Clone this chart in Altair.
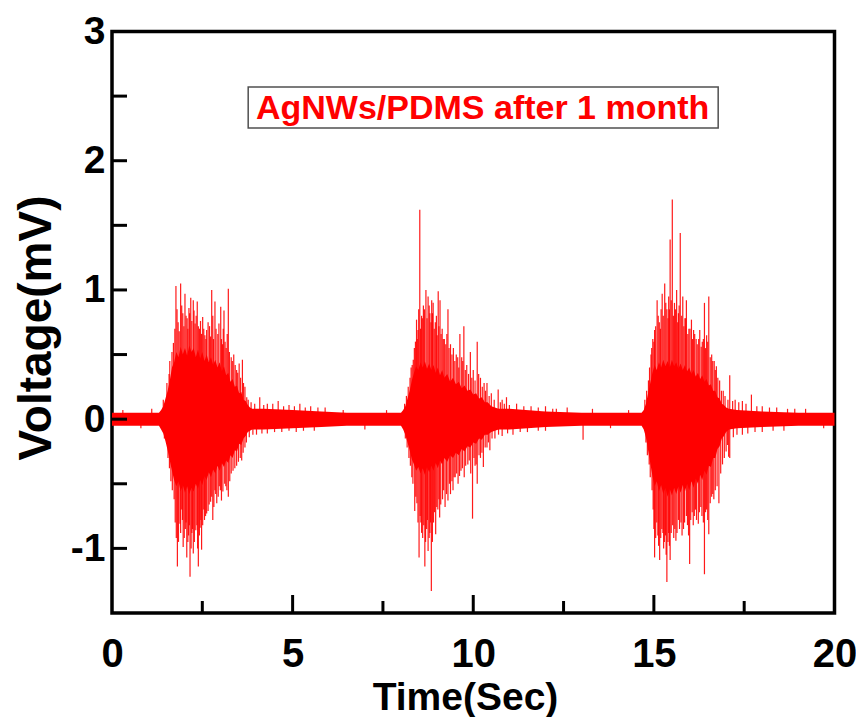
import altair as alt
import pandas as pd

# ---- data ----
# dense core envelope of the signal (time s, upper mV, lower mV), by segment
quiet0_t = [0.0, 0.5, 1.0]
quiet0_hi = [0.05, 0.05, 0.05]
quiet0_lo = [-0.05, -0.05, -0.05]

burst1_t = [1.30, 1.36, 1.42, 1.48, 1.54, 1.60, 1.66, 1.72, 1.78, 1.84, 1.90, 1.96, 2.02, 2.08,
            2.14, 2.20, 2.26, 2.32, 2.38, 2.44, 2.50, 2.56, 2.62, 2.68, 2.74, 2.80, 2.86, 2.92,
            2.98, 3.04, 3.10, 3.16, 3.22, 3.28, 3.34, 3.40, 3.46, 3.52, 3.58, 3.64, 3.70, 3.76,
            3.82, 3.88]
burst1_hi = [0.05, 0.07, 0.10, 0.16, 0.22, 0.30, 0.40, 0.44, 0.52, 0.48, 0.56, 0.50, 0.55, 0.49,
             0.57, 0.52, 0.55, 0.48, 0.54, 0.47, 0.52, 0.45, 0.50, 0.44, 0.48, 0.42, 0.46, 0.40,
             0.44, 0.37, 0.41, 0.34, 0.36, 0.29, 0.31, 0.25, 0.26, 0.20, 0.21, 0.15, 0.14, 0.11,
             0.09, 0.08]
burst1_lo = [-0.05, -0.08, -0.11, -0.17, -0.24, -0.32, -0.40, -0.47, -0.52, -0.48, -0.56, -0.51, -0.57, -0.52,
             -0.58, -0.53, -0.56, -0.50, -0.54, -0.47, -0.51, -0.44, -0.47, -0.41, -0.45, -0.39, -0.42, -0.36,
             -0.40, -0.34, -0.37, -0.32, -0.34, -0.28, -0.30, -0.24, -0.25, -0.19, -0.20, -0.15, -0.13, -0.10,
             -0.09, -0.08]

quiet1_t = [4.2, 5.0, 5.8, 6.5, 7.2, 7.9]
quiet1_hi = [0.08, 0.07, 0.06, 0.05, 0.05, 0.05]
quiet1_lo = [-0.08, -0.07, -0.06, -0.05, -0.05, -0.05]

burst2_t = [8.00, 8.06, 8.12, 8.18, 8.24, 8.30, 8.36, 8.42, 8.48, 8.54, 8.60, 8.66, 8.72, 8.78,
            8.84, 8.90, 8.96, 9.02, 9.08, 9.14, 9.20, 9.28, 9.36, 9.44, 9.52, 9.60, 9.68, 9.76,
            9.84, 9.92, 10.00, 10.08, 10.16, 10.24, 10.32, 10.40, 10.50, 10.60, 10.70]
burst2_hi = [0.05, 0.07, 0.10, 0.16, 0.22, 0.30, 0.36, 0.41, 0.38, 0.44, 0.40, 0.45, 0.39, 0.43,
             0.38, 0.42, 0.36, 0.40, 0.34, 0.38, 0.32, 0.35, 0.29, 0.32, 0.27, 0.29, 0.24, 0.26,
             0.22, 0.23, 0.19, 0.20, 0.16, 0.17, 0.13, 0.13, 0.10, 0.09, 0.08]
burst2_lo = [-0.05, -0.08, -0.12, -0.18, -0.24, -0.31, -0.35, -0.40, -0.37, -0.42, -0.38, -0.43, -0.37, -0.41,
             -0.36, -0.40, -0.34, -0.38, -0.32, -0.35, -0.30, -0.33, -0.28, -0.30, -0.26, -0.28, -0.23, -0.25,
             -0.21, -0.22, -0.18, -0.19, -0.15, -0.16, -0.12, -0.12, -0.10, -0.09, -0.08]

quiet2_t = [11.0, 12.0, 13.0, 14.0]
quiet2_hi = [0.08, 0.06, 0.05, 0.05]
quiet2_lo = [-0.08, -0.06, -0.05, -0.05]

burst3_t = [14.66, 14.72, 14.78, 14.84, 14.90, 14.96, 15.02, 15.08, 15.14, 15.20, 15.26, 15.32, 15.38, 15.44,
            15.50, 15.56, 15.62, 15.68, 15.74, 15.80, 15.86, 15.92, 15.98, 16.04, 16.10, 16.16, 16.22, 16.28,
            16.34, 16.40, 16.46, 16.52, 16.58, 16.64, 16.70, 16.76, 16.82, 16.88, 16.94, 17.00, 17.08]
burst3_hi = [0.05, 0.07, 0.12, 0.20, 0.28, 0.36, 0.42, 0.38, 0.44, 0.40, 0.46, 0.41, 0.45, 0.40,
             0.46, 0.41, 0.44, 0.39, 0.43, 0.38, 0.42, 0.37, 0.40, 0.35, 0.38, 0.33, 0.36, 0.31,
             0.34, 0.29, 0.31, 0.26, 0.27, 0.22, 0.22, 0.17, 0.16, 0.12, 0.11, 0.09, 0.08]
burst3_lo = [-0.05, -0.08, -0.14, -0.24, -0.34, -0.44, -0.52, -0.48, -0.56, -0.51, -0.58, -0.53, -0.60, -0.54,
             -0.59, -0.53, -0.58, -0.52, -0.57, -0.51, -0.56, -0.50, -0.55, -0.48, -0.53, -0.46, -0.50, -0.43,
             -0.47, -0.40, -0.43, -0.36, -0.37, -0.30, -0.30, -0.23, -0.21, -0.15, -0.13, -0.10, -0.08]

quiet3_t = [17.3, 18.0, 19.0, 20.0]
quiet3_hi = [0.07, 0.06, 0.05, 0.05]
quiet3_lo = [-0.07, -0.06, -0.05, -0.05]

# tallest individual spikes (time s, peak mV)
spike_t = [
    1.42, 1.52, 1.60, 1.70, 1.77, 1.83, 1.90, 1.96, 2.02, 2.08, 2.13, 2.18, 2.25, 2.30,
    2.36, 2.42, 2.51, 2.57, 2.62, 2.70, 2.76, 2.81, 2.85, 2.93, 3.01, 3.06, 3.10, 3.16,
    3.22, 3.30, 3.37, 3.45, 3.52, 3.61, 3.68, 3.73, 3.85, 4.09, 4.30, 4.60, 4.90, 5.20,
    5.50, 5.90,
    1.45, 1.55, 1.63, 1.72, 1.81, 1.88, 1.93, 1.97, 2.03, 2.07, 2.12, 2.16, 2.21, 2.25,
    2.32, 2.39, 2.44, 2.48, 2.56, 2.62, 2.66, 2.73, 2.79, 2.85, 2.90, 2.97, 3.03, 3.12,
    3.22, 3.30, 3.40, 3.50, 3.59, 3.68, 3.80, 4.00, 4.30, 4.70, 5.10, 5.60,
    8.10, 8.20, 8.28, 8.34, 8.40, 8.43, 8.47, 8.52, 8.57, 8.62, 8.69, 8.75, 8.80, 8.85,
    8.89, 8.95, 9.03, 9.08, 9.14, 9.20, 9.30, 9.37, 9.45, 9.53, 9.63, 9.68, 9.74, 9.82,
    9.92, 10.00, 10.11, 10.20, 10.30, 10.38, 10.50, 10.69, 10.80, 10.92, 11.20, 11.60,
    12.00, 12.60, 13.30,
    8.12, 8.22, 8.30, 8.38, 8.44, 8.50, 8.55, 8.60, 8.66, 8.71, 8.75, 8.80, 8.84, 8.90,
    8.96, 9.02, 9.07, 9.15, 9.22, 9.30, 9.37, 9.44, 9.50, 9.58, 9.66, 9.75, 9.85, 9.93,
    9.98, 10.05, 10.11, 10.20, 10.28, 10.38, 10.46, 10.60, 10.80, 11.10, 11.50, 12.00,
    13.04,
    14.75, 14.85, 14.92, 14.97, 15.02, 15.09, 15.15, 15.23, 15.30, 15.36, 15.41, 15.45,
    15.51, 15.57, 15.63, 15.68, 15.73, 15.80, 15.86, 15.90, 15.97, 16.04, 16.10, 16.17,
    16.27, 16.34, 16.40, 16.46, 16.52, 16.60, 16.67, 16.73, 16.82, 16.92, 17.10, 17.25,
    17.45, 17.70, 18.00, 18.40, 18.90,
    14.78, 14.87, 14.95, 15.02, 15.08, 15.16, 15.22, 15.29, 15.36, 15.41, 15.45, 15.52,
    15.61, 15.68, 15.75, 15.82, 15.90, 15.99, 16.06, 16.15, 16.23, 16.30, 16.40, 16.46,
    16.52, 16.60, 16.70, 16.80, 16.90, 17.00, 17.07, 17.10, 17.30, 17.60, 18.00, 18.60,
    0.30, 0.80, 1.10, 6.40, 7.00, 7.60, 12.30, 13.80, 14.30, 19.20, 19.70,
]
spike_v = [
    0.15, 0.28, 0.45, 0.59, 1.03, 0.75, 1.05, 0.82, 0.97, 0.78, 0.86, 0.94, 0.92, 0.74,
    0.91, 0.70, 0.79, 0.65, 0.69, 0.72, 1.00, 0.62, 0.91, 0.66, 0.87, 0.58, 0.84, 0.55,
    1.01, 0.48, 0.50, 0.38, 0.43, 0.46, 0.25, 0.17, 0.13, 0.17, 0.12, 0.14, 0.11, 0.12,
    0.10, 0.09,
    -0.15, -0.30, -0.48, -0.62, -1.14, -0.81, -0.70, -0.99, -0.85, -1.07, -0.90, -1.22, -0.88, -1.04,
    -0.86, -1.14, -0.84, -1.01, -0.78, -0.73, -0.71, -0.64, -0.78, -0.55, -0.65, -0.52, -0.63, -0.50,
    -0.60, -0.42, -0.38, -0.33, -0.32, -0.22, -0.14, -0.12, -0.11, -0.10, -0.10, -0.09,
    0.12, 0.25, 0.40, 0.46, 0.60, 0.77, 0.69, 1.62, 0.80, 0.88, 1.00, 0.95, 0.82, 0.92,
    0.90, 0.75, 0.99, 0.92, 0.70, 0.62, 0.85, 0.58, 0.55, 0.50, 0.66, 0.48, 0.72, 0.42,
    0.52, 0.38, 0.60, 0.32, 0.28, 0.28, 0.20, 0.23, 0.15, 0.17, 0.12, 0.10,
    0.10, 0.09, 0.08,
    -0.15, -0.30, -0.45, -0.71, -0.65, -1.07, -0.80, -0.92, -1.14, -0.85, -1.02, -0.88, -1.33, -0.80,
    -0.89, -0.70, -0.76, -0.62, -0.68, -0.63, -0.58, -0.55, -0.45, -0.50, -0.40, -0.45, -0.35, -0.42,
    -0.77, -0.36, -0.50, -0.30, -0.37, -0.22, -0.24, -0.15, -0.13, -0.12, -0.10, -0.09,
    -0.16,
    0.15, 0.30, 0.50, 0.62, 0.69, 0.92, 0.75, 0.97, 1.05, 0.85, 0.95, 1.39,
    1.70, 0.90, 1.00, 0.82, 1.44, 0.95, 0.78, 0.92, 0.70, 0.77, 0.69, 0.62,
    0.69, 0.60, 0.90, 0.65, 0.95, 0.50, 0.45, 0.41, 0.30, 0.22, 0.34, 0.15,
    0.14, 0.19, 0.10, 0.09, 0.08,
    -0.18, -0.35, -0.55, -1.07, -0.80, -1.09, -0.85, -0.95, -1.26, -0.88, -1.09, -0.82,
    -0.94, -0.78, -0.80, -0.85, -0.75, -1.12, -0.72, -0.70, -0.81, -0.68, -1.20, -0.70,
    -0.89, -0.60, -0.55, -0.65, -0.35, -0.25, -0.29, -0.30, -0.12, -0.11, -0.10, -0.09,
    0.07, -0.07, 0.08, 0.07, -0.08, 0.07, 0.08, -0.07, 0.07, 0.08, -0.07,
]

# medium spikes filling the dense part of each burst (time s, peak mV)
mid_t = [
    1.58, 1.66, 1.74, 1.80, 1.86, 1.93, 1.99, 2.05, 2.10, 2.15, 2.21, 2.27, 2.33, 2.39,
    2.45, 2.48, 2.54, 2.60, 2.66, 2.73, 2.79, 2.88, 2.96, 3.03, 3.08, 3.13, 3.19, 3.25,
    3.33, 3.41, 3.48, 3.56, 3.64, 3.77, 3.95, 4.20, 4.45, 4.75, 5.05, 5.35, 5.70,
    1.59, 1.67, 1.75, 1.78, 1.84, 1.90, 1.95, 2.00, 2.05, 2.10, 2.14, 2.19, 2.23, 2.28,
    2.35, 2.37, 2.42, 2.46, 2.51, 2.54, 2.59, 2.69, 2.76, 2.82, 2.87, 2.94, 3.00, 3.07,
    3.15, 3.18, 3.26, 3.35, 3.45, 3.55, 3.63, 3.72, 3.90, 4.15, 4.50, 4.90, 5.30,
    8.15, 8.25, 8.31, 8.37, 8.45, 8.49, 8.54, 8.59, 8.65, 8.72, 8.78, 8.83, 8.87, 8.92,
    8.98, 9.00, 9.05, 9.11, 9.17, 9.24, 9.27, 9.33, 9.41, 9.49, 9.57, 9.60, 9.71, 9.78,
    9.87, 9.96, 10.05, 10.15, 10.25, 10.34, 10.44, 10.58, 10.75, 10.86, 11.00, 11.40,
    11.80, 12.20,
    8.17, 8.26, 8.33, 8.41, 8.47, 8.53, 8.57, 8.63, 8.68, 8.73, 8.78, 8.82, 8.87, 8.93,
    8.99, 9.05, 9.10, 9.18, 9.26, 9.34, 9.41, 9.47, 9.54, 9.62, 9.70, 9.79, 9.89, 10.02,
    10.08, 10.16, 10.24, 10.33, 10.42, 10.52, 10.70, 10.95, 11.30, 11.80,
    14.80, 14.88, 14.94, 15.00, 15.05, 15.12, 15.18, 15.20, 15.26, 15.33, 15.39, 15.43,
    15.48, 15.54, 15.60, 15.66, 15.70, 15.77, 15.83, 15.88, 15.94, 16.00, 16.07, 16.13,
    16.20, 16.24, 16.31, 16.37, 16.43, 16.49, 16.56, 16.63, 16.70, 16.77, 16.87, 16.97,
    17.05, 17.18, 17.35, 17.55, 17.85, 18.20, 18.70,
    14.82, 14.90, 14.98, 15.00, 15.05, 15.11, 15.13, 15.19, 15.25, 15.27, 15.32, 15.34,
    15.39, 15.43, 15.48, 15.55, 15.58, 15.64, 15.71, 15.78, 15.85, 15.93, 15.96, 16.02,
    16.09, 16.12, 16.18, 16.26, 16.33, 16.37, 16.43, 16.49, 16.56, 16.63, 16.66, 16.75,
    16.85, 16.95, 17.04, 17.20, 17.45, 17.80, 18.30,
]
mid_v = [
    0.35, 0.52, 0.70, 0.85, 0.68, 0.88, 0.72, 0.80, 0.70, 0.82, 0.76, 0.84, 0.80, 0.72,
    0.76, 0.66, 0.70, 0.62, 0.75, 0.64, 0.80, 0.70, 0.74, 0.62, 0.70, 0.60, 0.66, 0.52,
    0.45, 0.42, 0.36, 0.32, 0.28, 0.15, 0.12, 0.11, 0.12, 0.10, 0.10, 0.09, 0.09,
    -0.38, -0.55, -0.80, -0.92, -0.95, -0.88, -0.78, -0.92, -0.80, -0.95, -0.82, -1.00, -0.85, -0.95,
    -0.82, -1.00, -0.90, -0.78, -0.82, -0.70, -0.75, -0.66, -0.60, -0.68, -0.58, -0.60, -0.55, -0.56,
    -0.52, -0.55, -0.48, -0.40, -0.36, -0.30, -0.26, -0.18, -0.12, -0.11, -0.10, -0.09, -0.09,
    0.18, 0.32, 0.42, 0.55, 0.62, 0.85, 0.70, 0.78, 0.85, 0.78, 0.88, 0.75, 0.82, 0.70,
    0.80, 0.65, 0.72, 0.66, 0.62, 0.58, 0.66, 0.55, 0.50, 0.45, 0.48, 0.40, 0.45, 0.38,
    0.35, 0.32, 0.30, 0.35, 0.25, 0.22, 0.18, 0.15, 0.13, 0.12, 0.11, 0.10,
    0.09, 0.08,
    -0.22, -0.36, -0.50, -0.60, -0.80, -0.75, -0.88, -0.82, -0.95, -0.78, -0.92, -0.80, -0.95, -0.72,
    -0.68, -0.62, -0.66, -0.55, -0.58, -0.50, -0.48, -0.45, -0.42, -0.44, -0.38, -0.36, -0.32, -0.30,
    -0.35, -0.28, -0.26, -0.22, -0.18, -0.15, -0.12, -0.11, -0.10, -0.09,
    0.22, 0.40, 0.55, 0.60, 0.72, 0.80, 0.70, 0.85, 0.80, 0.90, 0.78, 0.85,
    0.92, 0.80, 0.85, 0.75, 0.88, 0.80, 0.72, 0.78, 0.66, 0.70, 0.62, 0.66,
    0.58, 0.62, 0.56, 0.62, 0.55, 0.60, 0.48, 0.45, 0.38, 0.32, 0.22, 0.18,
    0.15, 0.14, 0.13, 0.12, 0.10, 0.09, 0.08,
    -0.28, -0.45, -0.70, -0.85, -0.92, -0.90, -0.98, -0.92, -0.88, -1.00, -0.90, -1.05,
    -0.95, -0.98, -0.88, -0.92, -0.85, -0.88, -0.85, -0.90, -0.80, -0.82, -0.90, -0.78,
    -0.82, -0.75, -0.78, -0.72, -0.75, -0.80, -0.72, -0.78, -0.65, -0.58, -0.62, -0.52,
    -0.42, -0.30, -0.20, -0.14, -0.12, -0.10, -0.09,
]

x_ticks_major = [5, 10, 15]
x_ticks_minor = [2.5, 7.5, 12.5, 17.5]
y_ticks = [-1, -0.5, 0, 0.5, 1, 1.5, 2, 2.5]
x_labels = [0, 5, 10, 15, 20]
y_labels = [-1, 0, 1, 2, 3]

legend_text = "AgNWs/PDMS after 1 month"

# ---- tables ----
env = pd.DataFrame({
    "t": quiet0_t + burst1_t + quiet1_t + burst2_t + quiet2_t + burst3_t + quiet3_t,
    "hi": quiet0_hi + burst1_hi + quiet1_hi + burst2_hi + quiet2_hi + burst3_hi + quiet3_hi,
    "lo": quiet0_lo + burst1_lo + quiet1_lo + burst2_lo + quiet2_lo + burst3_lo + quiet3_lo,
})
spikes = pd.DataFrame({"t": spike_t + mid_t, "v": spike_v + mid_v})
spikes["zero"] = 0.0
xmaj = pd.DataFrame({"t": x_ticks_major})
xmin = pd.DataFrame({"t": x_ticks_minor})
yt = pd.DataFrame({"v": y_ticks})
box = pd.DataFrame({"t": [3.77], "t2": [16.78], "v": [2.254], "v2": [2.571]})
lab = pd.DataFrame({"t": [10.26], "v": [2.324], "s": [legend_text]})

W, H = 722.5, 581.5
RED = "#ff0000"
SANS = "Liberation Sans, Arial, sans-serif"

xs = alt.Scale(domain=[0, 20], nice=False, zero=False)
ys = alt.Scale(domain=[-1.5, 3], nice=False, zero=False)

xaxis = alt.Axis(values=x_labels, ticks=False, tickSize=0, domain=False, grid=False,
                 labelFont=SANS, labelFontWeight="bold", labelFontSize=40,
                 labelColor="black", labelPadding=53, labelBaseline="alphabetic",
                 labelFlush=False, labelOverlap=False, labelExpr="'' + datum.value",
                 title="Time(Sec)", titleFont=SANS, titleFontWeight="bold",
                 titleFontSize=39, titleColor="black", titleX=353, titleY=96,
                 titleBaseline="alphabetic", titleAlign="center")
yaxis = alt.Axis(values=y_labels, ticks=False, tickSize=0, domain=False, grid=False,
                 labelFont=SANS, labelFontWeight="bold", labelFontSize=39,
                 labelColor="black", labelPadding=7, labelAlign="right",
                 labelBaseline="middle", labelFlush=False, labelOverlap=False,
                 labelExpr="'' + datum.value",
                 title="Voltage(mV)", titleFont=SANS, titleFontWeight="bold",
                 titleFontSize=46, titleColor="black", titleX=-76, titleY=296,
                 titleAngle=270, titleAlign="center", titleBaseline="middle")

X = lambda f: alt.X(f, type="quantitative", scale=xs, axis=xaxis)
Y = lambda f: alt.Y(f, type="quantitative", scale=ys, axis=yaxis)

core = alt.Chart(env).mark_area(color=RED, opacity=1, interpolate="linear").encode(
    x=X("t"), y=Y("lo"), y2="hi")

spk = alt.Chart(spikes).mark_rule(color=RED, strokeWidth=1.2, opacity=0.9).encode(
    x=X("t"), y=Y("v"), y2="zero")

ytk = alt.Chart(yt).mark_rule(color="black", strokeWidth=3).encode(
    y=Y("v"), x=alt.value(0), x2=alt.value(15))
xtk1 = alt.Chart(xmaj).mark_rule(color="black", strokeWidth=3).encode(
    x=X("t"), y=alt.value(H), y2=alt.value(H - 18))
xtk2 = alt.Chart(xmin).mark_rule(color="black", strokeWidth=3).encode(
    x=X("t"), y=alt.value(H), y2=alt.value(H - 12))

rect = alt.Chart(box).mark_rect(fill="white", stroke="#505050", strokeWidth=1.5).encode(
    x=X("t"), x2="t2", y=Y("v"), y2="v2")
txt = alt.Chart(lab).mark_text(color=RED, font=SANS, fontWeight="bold", fontSize=34,
                               align="center", baseline="alphabetic").encode(
    x=X("t"), y=Y("v"), text="s:N")

chart = alt.layer(core, spk, ytk, xtk1, xtk2, rect, txt).properties(
    width=W, height=H,
    autosize=alt.AutoSizeParams(type="none"),
    padding={"left": 104, "top": 23.5, "right": 21.5, "bottom": 104},
    background="white",
).configure_view(stroke="black", strokeWidth=3.5)

chart.save("out.html", embed_options={"renderer": "svg", "actions": False})
